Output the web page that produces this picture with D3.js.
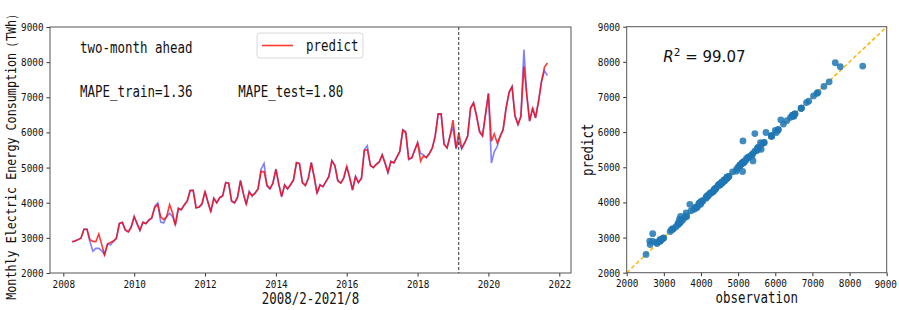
<!DOCTYPE html>
<html><head><meta charset="utf-8">
<script src="https://cdn.jsdelivr.net/npm/d3@7"></script>
<style>body{margin:0;background:#fff;} svg{display:block;}</style>
</head><body><svg id="c" width="899" height="310"></svg>
<script>
// ---- data ----
const firstMonth = new Date(2008, 3, 1);
const actual = [
 2890,2910,2950,2990,3250,3240,2900,2620,2700,2700,2630,2520,
 2820,2800,2900,2990,3420,3440,3220,3170,3320,3613,3380,3205,
 3450,3400,3510,3560,3900,3990,3450,3420,3600,3700,3600,3375,
 3850,3800,3946,4050,4355,4355,3850,3880,3950,4325,4000,3730,
 4137,3995,4137,4200,4580,4550,4040,3990,4150,4640,4230,3946,
 4325,4180,4280,4400,4950,5120,4470,4390,4560,4960,4500,4163,
 4515,4390,4500,4650,5150,5110,4565,4490,4700,5150,4700,4260,
 4515,4450,4610,4750,5200,5055,4620,4560,4700,5035,4700,4355,
 4750,4565,4700,5510,5620,5050,5000,5100,5150,5370,5100,4850,
 5180,5130,5300,5450,6080,6030,5225,5275,5500,5700,5400,5370,
 5275,5400,5560,5900,6530,6530,5650,5560,5900,6150,5530,5750,
 5530,5700,5900,6700,6840,6500,6000,5900,6500,7120,5130,5450,
 5600,5900,6080,6700,7150,7310,6460,6220,6460,8355,7030,6315,
 6700,6410,6900,7450,7750,7615
];
const predict = [
 2890,2910,2950,2990,3240,3250,2950,2900,2890,3110,2800,2520,
 2830,2870,2910,2980,3400,3440,3230,3170,3300,3600,3400,3220,
 3440,3410,3500,3570,3860,3950,3600,3520,3600,3946,3700,3360,
 3830,3800,3930,4040,4340,4350,3860,3870,3980,4310,4020,3760,
 4120,4000,4150,4190,4560,4560,4050,4000,4150,4620,4250,3960,
 4300,4200,4270,4390,4890,4880,4500,4400,4550,4950,4520,4180,
 4500,4400,4520,4640,5130,5120,4580,4490,4680,5140,4720,4280,
 4500,4460,4600,4740,5190,5060,4640,4560,4700,5030,4720,4370,
 4740,4580,4690,5490,5510,5070,5000,5090,5160,5360,5120,4870,
 5170,5140,5300,5460,6060,5990,5250,5270,5480,5710,5180,5330,
 5290,5390,5550,5880,6520,6520,5670,5560,5890,6350,5560,5990,
 5560,5700,5900,6680,6840,6450,6050,5900,6480,7100,5750,5960,
 5700,5880,6080,6680,7130,7300,6480,6230,6450,7880,7030,6330,
 6680,6420,6880,7430,7860,7974
];
const months = actual.map((_, i) => d3.timeMonth.offset(firstMonth, i));
const yearTicks = [2008, 2010, 2012, 2014, 2016, 2018, 2020, 2022];
const valueTicks = [2000, 3000, 4000, 5000, 6000, 7000, 8000, 9000];
const splitMonth = new Date(2019, 2, 1);
const horizon = "two-month ahead";
const mapeTrain = "MAPE_train=1.36";
const mapeTest = "MAPE_test=1.80";
const r2 = "99.07";

// ---- helpers ----
const svg = d3.select("#c");
const MONO = "'DejaVu Sans Mono','Liberation Mono',monospace";
function hei(sel, size, txt, units) {
  const n = units != null ? units : txt.length;
  sel.text(txt).attr("font-family", MONO).attr("font-size", size)
     .attr("textLength", n * size * 0.5).attr("lengthAdjust", "spacingAndGlyphs")
     .attr("fill", "#111");
  return sel;
}
const fmt = d3.format("d");

// ---- left panel ----
const L = {l: 50, r: 571, t: 27, b: 273};
const x = d3.scaleTime().domain([new Date(2008,0,1), new Date(2022,0,1)]).range([63.3, 559.3]);
const y = d3.scaleLinear().domain([2000, 9000]).range([L.b, L.t]);

const gl = svg.append("g");
const xa = gl.append("g").attr("transform", `translate(0,${L.b})`)
  .call(d3.axisBottom(x).tickValues(yearTicks.map(v => new Date(v,0,1))).tickFormat(d3.timeFormat("%Y")).tickSize(3.5).tickPadding(3));
const ya = gl.append("g").attr("transform", `translate(${L.l},0)`)
  .call(d3.axisLeft(y).tickValues(valueTicks).tickFormat(fmt).tickSize(3.5).tickPadding(3));
[xa, ya].forEach(a => {
  a.select(".domain").remove();
  a.selectAll("line").attr("stroke", "#333");
  a.selectAll("text").each(function(){ const t=d3.select(this); hei(t, 11.2, t.text()); });
});
xa.selectAll("text").attr("dy", null).attr("y", 11.7).attr("dominant-baseline", "central");
ya.selectAll("text").attr("dy", null).attr("dominant-baseline", "central");

const line = (arr) => d3.line().x((d, i) => x(months[i])).y(d => y(d))(arr);
gl.append("path").attr("d", line(actual)).attr("fill", "none")
  .attr("stroke", "#0000ff").attr("stroke-opacity", 0.5).attr("stroke-width", 1.6);
gl.append("path").attr("d", line(predict)).attr("fill", "none")
  .attr("stroke", "#ff0000").attr("stroke-opacity", 0.78).attr("stroke-width", 1.6);

gl.append("line").attr("x1", x(splitMonth)).attr("x2", x(splitMonth))
  .attr("y1", L.t).attr("y2", L.b).attr("stroke", "#333").attr("stroke-width", 1)
  .attr("stroke-dasharray", "3,2");

gl.append("rect").attr("x", L.l).attr("y", L.t).attr("width", L.r - L.l).attr("height", L.b - L.t)
  .attr("fill", "none").attr("stroke", "#555").attr("stroke-width", 1);

hei(gl.append("text").attr("x", 80).attr("y", 48).attr("dominant-baseline", "central"), 15, horizon);
hei(gl.append("text").attr("x", 80).attr("y", 92).attr("dominant-baseline", "central"), 15, mapeTrain);
hei(gl.append("text").attr("x", 238.3).attr("y", 92).attr("dominant-baseline", "central"), 15, mapeTest);

// legend
gl.append("rect").attr("x", 257).attr("y", 33).attr("width", 106).attr("height", 25).attr("rx", 3)
  .attr("fill", "#fff").attr("stroke", "#d8d8d8");
gl.append("line").attr("x1", 262).attr("x2", 293).attr("y1", 45.5).attr("y2", 45.5)
  .attr("stroke", "#ff0000").attr("stroke-opacity", 0.78).attr("stroke-width", 1.6);
hei(gl.append("text").attr("x", 306).attr("y", 45.5).attr("dominant-baseline", "central"), 15, "predict");

hei(gl.append("text").attr("x", (L.l + L.r) / 2).attr("y", 299).attr("text-anchor", "middle")
  .attr("dominant-baseline", "central"), 15, "2008/2-2021/8");

// vertical label: natural width scaled horizontally to the target length
const ylab = gl.append("text").attr("text-anchor", "middle").attr("dominant-baseline", "central")
  .attr("font-family", MONO).attr("font-size", 14.2).attr("fill", "#111")
  .text("Monthly Electric Energy Consumption（TWh）");
const natural = ylab.node().getComputedTextLength();
const target = 41 * 14.2 * 0.5;
ylab.attr("transform", `translate(11,154) rotate(-90) scale(${target / natural},1)`);

// ---- right panel ----
const R = {l: 626.7, r: 886.7, t: 26.7, b: 272.7};
const sx = d3.scaleLinear().domain([2000, 9000]).range([R.l, R.r]);
const sy = d3.scaleLinear().domain([2000, 9000]).range([R.b, R.t]);
const gr = svg.append("g");
const sxa = gr.append("g").attr("transform", `translate(0,${R.b})`)
  .call(d3.axisBottom(sx).tickValues(valueTicks).tickFormat(fmt).tickSize(3.5).tickPadding(3));
const sya = gr.append("g").attr("transform", `translate(${R.l},0)`)
  .call(d3.axisLeft(sy).tickValues(valueTicks).tickFormat(fmt).tickSize(3.5).tickPadding(3));
[sxa, sya].forEach(a => {
  a.select(".domain").remove();
  a.selectAll("line").attr("stroke", "#333");
  a.selectAll("text").each(function(){ const t=d3.select(this); hei(t, 11.2, t.text()); });
});
sxa.selectAll("text").attr("dy", null).attr("y", 10.5).attr("dominant-baseline", "central");
sya.selectAll("text").attr("dy", null).attr("dominant-baseline", "central");
// last x label at the right edge: scale instead of textLength so its box stays inside
sxa.selectAll("text").filter(d => d === 9000).each(function(){
  const t = d3.select(this).attr("textLength", null).attr("lengthAdjust", null).attr("y", 0);
  const k = (4 * 11.2 * 0.5) / this.getComputedTextLength();
  t.attr("transform", `translate(-1.5,10.5) scale(${k},1)`);
});

gr.append("line").attr("x1", sx(2000)).attr("y1", sy(2000)).attr("x2", sx(9000)).attr("y2", sy(9000))
  .attr("stroke", "#ffb400").attr("stroke-width", 1.5).attr("stroke-dasharray", "4,2.5");
gr.append("g").selectAll("circle").data(actual).join("circle")
  .attr("cx", d => sx(d)).attr("cy", (d, i) => sy(predict[i])).attr("r", 3.4)
  .attr("fill", "#1f77b4").attr("fill-opacity", 0.85);

gr.append("rect").attr("x", R.l).attr("y", R.t).attr("width", R.r - R.l).attr("height", R.b - R.t)
  .attr("fill", "none").attr("stroke", "#555").attr("stroke-width", 1);

const rt = gr.append("text").attr("x", 663.3).attr("y", 62).attr("font-family", "'DejaVu Sans',sans-serif")
  .attr("font-size", 15).attr("fill", "#111");
rt.append("tspan").attr("font-style", "italic").text("R");
rt.append("tspan").attr("font-size", 10.5).attr("dy", -6).text("2");
rt.append("tspan").attr("dy", 6).text(" = " + r2);

hei(gr.append("text").attr("x", (R.l + R.r) / 2).attr("y", 298).attr("text-anchor", "middle")
  .attr("dominant-baseline", "central"), 15, "observation");
hei(gr.append("text").attr("transform", `translate(588,${(R.t + R.b) / 2}) rotate(-90)`).attr("text-anchor", "middle")
  .attr("dominant-baseline", "central"), 15, "predict");
</script></body></html>
